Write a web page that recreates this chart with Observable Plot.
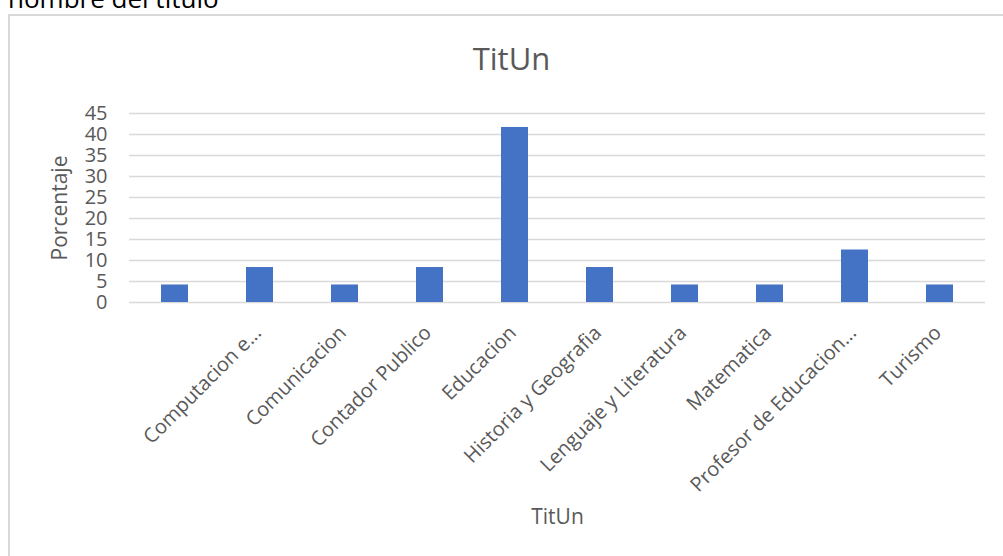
<!DOCTYPE html>
<html>
<head>
<meta charset="utf-8">
<script src="https://cdn.jsdelivr.net/npm/d3@7"></script>
<script src="https://cdn.jsdelivr.net/npm/@observablehq/plot@0.6"></script>
<style>
  html, body { margin: 0; padding: 0; background: #fff; }
  #wrap { position: relative; width: 1003px; height: 556px; overflow: hidden; font-family: "Open Sans", sans-serif; }
  #doc-title { position: absolute; left: 8px; top: -15px; font-size: 26px; line-height: 26px; color: #000; white-space: nowrap; }
  #frame { position: absolute; left: 8px; top: 14px; width: 1100px; height: 700px; border: 2px solid #d9d9d9; box-sizing: border-box; }
  #chart { position: absolute; left: 0; top: 0; }
</style>
</head>
<body>
<div id="wrap">
  <div id="doc-title">nombre del titulo</div>
  <div id="frame"></div>
  <div id="chart"></div>
</div>
<script>
const categories = ["", "Computacion e...", "Comunicacion", "Contador Publico", "Educacion", "Historia y Geografia", "Lenguaje y Literatura", "Matematica", "Profesor de Educacion...", "Turismo"];
const values = [4.17, 8.33, 4.17, 8.33, 41.67, 8.33, 4.17, 4.17, 12.5, 4.17];
const yTicks = [0, 5, 10, 15, 20, 25, 30, 35, 40, 45];
const chartTitle = "TitUn";
const xTitle = "TitUn";
const yTitle = "Porcentaje";

const data = categories.map((c, i) => ({cat: c, value: values[i]}));
const textColor = "#595959";

const plot = Plot.plot({
  width: 1003,
  height: 556,
  marginLeft: 129,
  marginRight: 18,
  marginTop: 113,
  marginBottom: 254,
  style: {fontFamily: "Open Sans, sans-serif", fontSize: "20px", background: "transparent", overflow: "visible"},
  x: {type: "band", domain: categories, paddingInner: 0.685, paddingOuter: 0.3425, align: 0.5},
  y: {domain: [0, 45]},
  marks: [
    Plot.gridY(yTicks, {stroke: "#d9d9d9", strokeOpacity: 1, strokeWidth: 1.5}),
    Plot.barY(data, {x: "cat", y: "value", fill: "#4472c4"}),
    Plot.axisY({ticks: yTicks, tickSize: 0, tickPadding: 22, fontSize: 20, color: textColor, label: null}),
    Plot.axisX({tickRotate: -45, tickSize: 0, tickPadding: 27, dx: -2, fontSize: 20, color: textColor, label: null}),
    Plot.text([chartTitle], {frameAnchor: "top", lineAnchor: "middle", textAnchor: "middle", dy: -53, dx: -46, fontSize: 31, fill: textColor}),
    Plot.text([xTitle], {frameAnchor: "bottom", lineAnchor: "middle", textAnchor: "middle", dy: 215, fontSize: 21, fill: textColor}),
    Plot.text([yTitle], {frameAnchor: "left", lineAnchor: "middle", textAnchor: "middle", dx: -69, rotate: -90, fontSize: 21, fill: textColor})
  ]
});
document.getElementById("chart").appendChild(plot);
</script>
</body>
</html>
